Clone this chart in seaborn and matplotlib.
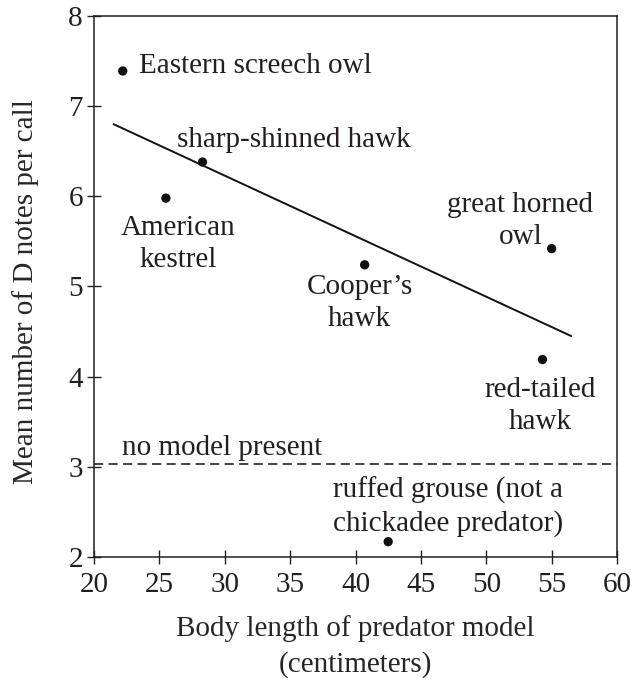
import matplotlib

matplotlib.use("Agg")
import matplotlib.pyplot as plt
import pandas as pd
import seaborn as sns

# predator models: body length (cm) vs mean number of D notes per call
species = [
    "Eastern screech owl",
    "sharp-shinned hawk",
    "American kestrel",
    "Cooper's hawk",
    "great horned owl",
    "red-tailed hawk",
    "ruffed grouse",
]
body_length = [22.2, 28.3, 25.5, 40.7, 55.0, 54.3, 42.5]
d_notes = [7.39, 6.38, 5.98, 5.24, 5.42, 4.19, 2.17]

# trend line (ends)
trend_x = [21.5, 56.5]
trend_y = [6.80, 4.45]

no_model_level = 3.03

labels = [
    "Eastern screech owl",
    "sharp-shinned hawk",
    "American\nkestrel",
    "Cooper\u2019s\nhawk",
    "great horned\nowl",
    "red-tailed\nhawk",
    "ruffed grouse (not a\nchickadee predator)",
]
label_x = [23.45, 35.25, 26.4, 40.3, 52.6, 54.1, 47.05]
label_y = [7.45, 6.62, 5.47, 4.82, 5.73, 3.68, 2.56]
label_ha = ["left", "center", "center", "center", "center", "center", "center"]

df = pd.DataFrame({"species": species, "length": body_length, "notes": d_notes})
trend = pd.DataFrame({"length": trend_x, "notes": trend_y})

sns.set_theme(style="ticks")
plt.rcParams["font.family"] = ["Liberation Serif", "DejaVu Serif"]
plt.rcParams["text.color"] = "#231f20"
FS = 21

fig = plt.figure(figsize=(6.32, 6.89), dpi=100)
ax = fig.add_axes([0.1487, 0.1916, 0.9763 - 0.1487, 0.9768 - 0.1916])

sns.lineplot(data=trend, x="length", y="notes", color="#111111", linewidth=1.4, ax=ax)
sns.scatterplot(data=df, x="length", y="notes", color="#111111", s=45, edgecolor="none", ax=ax, zorder=3)
ax.axhline(no_model_level, color="#111111", linewidth=1.1, dashes=(6, 3.5))

for txt, x, y, ha in zip(labels, label_x, label_y, label_ha):
    ax.text(x, y, txt, ha=ha, va="center", fontsize=FS, linespacing=1.3, color="#231f20")
ax.text(22.15, 3.21, "no model present", ha="left", va="center", fontsize=FS, color="#231f20")

ax.set_xlim(20, 60)
ax.set_ylim(2, 8)
ax.set_xticks(range(20, 61, 5))
ax.set_yticks(range(2, 9))
ax.tick_params(direction="inout", length=10, width=1.0, labelsize=FS, colors="#231f20", pad=3)
ax.tick_params(axis="x", pad=6)
for side in ["left", "right", "top", "bottom"]:
    ax.spines[side].set_visible(True)
    ax.spines[side].set_linewidth(1.1)
    ax.spines[side].set_color("#231f20")

ax.set_xlabel("Body length of predator model\n(centimeters)", fontsize=FS, linespacing=1.4)
ax.set_ylabel("Mean number of D notes per call", fontsize=FS)
ax.xaxis.set_label_coords(0.5, -0.108)
ax.xaxis.label.set_va("top")
ax.yaxis.set_label_coords(-0.105, 0.49)

fig.savefig("out.png", dpi=100)
